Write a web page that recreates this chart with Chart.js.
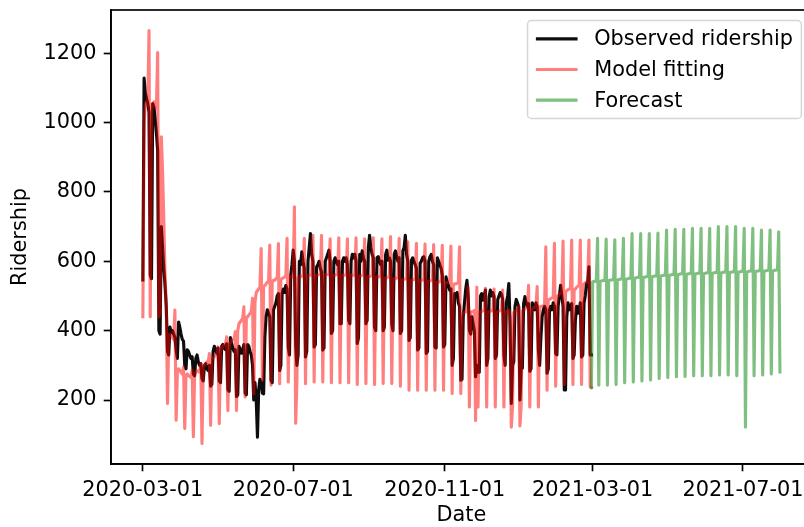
<!DOCTYPE html>
<html>
<head>
<meta charset="utf-8">
<script src="https://cdn.jsdelivr.net/npm/chart.js@4/dist/chart.umd.min.js"></script>
<style>
  html, body { margin: 0; padding: 0; background: #fff; overflow: hidden; width: 804px; height: 527px; }
  #wrap { width: 830px; height: 527px; }
  canvas { display: block; }
</style>
</head>
<body>
<div id="wrap"><canvas id="chart" width="830" height="527"></canvas></div>
<script>
// Daily ridership, one row per week (Sun..Sat)
const observedStart = '2020-03-01';
const observed = [
  546, 1128, 1085, 1070, 1055, 1030, 560,
  550, 1055, 1045, 1010, 970, 920, 400,
  390, 700, 640, 580, 530, 470, 340,
  330, 410, 395, 400, 390, 380, 345,
  320, 425, 410, 390, 375, 370, 300,
  290, 345, 340, 330, 320, 325, 275,
  270, 320, 330, 310, 300, 305, 262,
  255, 300, 305, 290, 285, 300, 240,
  245, 340, 355, 345, 335, 350, 255,
  250, 355, 360, 350, 345, 362, 230,
  225, 380, 365, 350, 340, 345, 210,
  215, 355, 345, 335, 345, 360, 220,
  215, 360, 355, 340, 330, 300, 200,
  250, 200, 93, 230, 260, 250, 220,
  218, 380, 440, 460, 450, 440, 257,
  250, 460, 470, 480, 500, 507, 285,
  300, 507, 520, 510, 530, 520, 353,
  330, 560, 590, 632, 600, 360, 300,
  330, 600, 590, 627, 600, 580, 324,
  340, 600, 640, 680, 620, 600, 353,
  360, 584, 590, 600, 580, 570, 344,
  350, 600, 610, 620, 632, 600, 392,
  400, 600, 610, 600, 590, 600, 420,
  420, 600, 610, 600, 610, 590, 430,
  420, 600, 620, 610, 620, 600, 363,
  380, 620, 600, 630, 610, 600, 420,
  430, 640, 675, 640, 620, 610, 410,
  400, 610, 613, 600, 590, 600, 400,
  410, 620, 632, 603, 610, 600, 420,
  400, 620, 630, 613, 600, 610, 392,
  400, 630, 640, 675, 620, 600, 372,
  380, 603, 610, 600, 590, 580, 344,
  350, 594, 600, 610, 613, 600, 334,
  340, 600, 613, 620, 600, 590, 353,
  350, 610, 600, 590, 580, 560, 353,
  360, 555, 540, 530, 517, 520, 300,
  320, 507, 500, 510, 480, 470, 257,
  260, 440, 480, 520, 545, 500, 402,
  390, 440, 420, 400, 267, 300, 280,
  280, 500, 507, 488, 500, 517, 300,
  320, 498, 517, 500, 510, 498, 320,
  330, 490, 500, 510, 505, 490, 330,
  300, 480, 500, 536, 420, 190, 300,
  310, 470, 490, 480, 469, 200, 290,
  292, 478, 498, 480, 470, 478, 283,
  290, 480, 470, 460, 480, 470, 344,
  300, 380, 440, 460, 470, 460, 277,
  290, 460, 470, 460, 480, 470, 334,
  330, 470, 500, 531, 500, 470, 229,
  229, 440, 480, 460, 470, 478, 320,
  330, 430, 470, 450, 460, 480, 324,
  330, 480, 500, 536, 540, 584, 330,
  330
];

const modelStart = '2020-03-01';
const model = [
  440, 1000, 1050, 1060, 1050, 1265, 440,
  1040, 1050, 1060, 1050, 1040, 1202, 440,
  450, 959, 860, 720, 560, 470, 190,
  380, 390, 385, 380, 375, 459, 142,
  280, 290, 285, 280, 275, 295, 118,
  270, 275, 270, 268, 265, 286, 94,
  275, 280, 285, 283, 280, 305, 75,
  295, 300, 305, 310, 308, 334, 127,
  318, 320, 325, 330, 330, 353, 132,
  345, 350, 355, 360, 360, 382, 170,
  362, 365, 370, 375, 375, 397, 170,
  400, 420, 425, 430, 435, 469, 209,
  438, 440, 445, 450, 455, 493, 218,
  480, 510, 515, 520, 525, 637, 257,
  528, 530, 535, 540, 540, 647, 243,
  543, 545, 545, 550, 550, 651, 247,
  548, 550, 552, 555, 555, 666, 252,
  553, 555, 555, 555, 757, 133, 250,
  553, 555, 555, 558, 558, 666, 247,
  556, 558, 560, 560, 560, 675, 252,
  558, 560, 560, 562, 562, 675, 252,
  558, 560, 562, 562, 562, 665, 250,
  558, 560, 560, 562, 562, 668, 250,
  558, 560, 560, 560, 560, 665, 250,
  558, 560, 560, 560, 560, 668, 245,
  556, 558, 558, 560, 560, 665, 248,
  554, 556, 556, 558, 558, 668, 245,
  553, 555, 555, 556, 556, 665, 248,
  550, 552, 552, 555, 555, 671, 248,
  548, 550, 550, 552, 552, 666, 240,
  546, 548, 548, 550, 550, 656, 228,
  544, 546, 546, 548, 548, 652, 228,
  543, 545, 545, 546, 546, 650, 228,
  541, 543, 543, 545, 545, 648, 228,
  538, 540, 540, 542, 542, 646, 228,
  536, 538, 538, 540, 540, 644, 219,
  533, 535, 535, 537, 537, 642, 219,
  448, 450, 452, 455, 455, 526, 180,
  453, 455, 455, 458, 141, 526, 180,
  453, 455, 455, 458, 458, 522, 180,
  453, 455, 456, 458, 458, 520, 180,
  453, 455, 456, 458, 458, 517, 180,
  453, 455, 456, 458, 440, 122, 180,
  453, 455, 458, 460, 470, 125, 185,
  458, 460, 462, 465, 465, 531, 180,
  460, 462, 465, 468, 468, 527, 180,
  468, 470, 470, 472, 472, 642, 228,
  488, 490, 492, 495, 495, 652, 240,
  498, 500, 505, 508, 510, 658, 245,
  512, 515, 518, 520, 522, 661, 245,
  518, 520, 525, 528, 530, 661, 245,
  532, 535, 538, 540, 545, 661, 238,
  236
];

const forecastStart = '2021-02-28';
const forecast = [
  236, 541, 542, 542, 543, 666, 243,
  542, 543, 544, 545, 545, 664, 243,
  544, 545, 546, 547, 547, 662, 245,
  546, 547, 548, 549, 549, 666, 250,
  548, 549, 550, 551, 552, 680, 252,
  551, 552, 553, 554, 554, 680, 255,
  553, 554, 555, 556, 556, 680, 258,
  555, 556, 557, 558, 558, 681, 262,
  557, 558, 559, 560, 560, 690, 265,
  559, 560, 561, 562, 562, 692, 267,
  561, 562, 563, 564, 564, 692, 268,
  562, 563, 564, 565, 565, 695, 270,
  563, 564, 565, 566, 566, 695, 270,
  564, 565, 566, 567, 567, 695, 270,
  565, 566, 567, 568, 568, 700, 272,
  566, 567, 568, 569, 569, 700, 272,
  567, 568, 569, 570, 570, 700, 270,
  568, 569, 570, 571, 571, 695, 122,
  569, 570, 571, 572, 572, 695, 270,
  570, 571, 572, 573, 573, 690, 272,
  571, 572, 573, 574, 574, 690, 275,
  572, 573, 574, 575, 575, 685, 281
];

const xTickDates = ['2020-03-01', '2020-07-01', '2020-11-01', '2021-03-01', '2021-07-01'];
const yTicks = [200, 400, 600, 800, 1000, 1200];
const seriesNames = ['Observed ridership', 'Model fitting', 'Forecast'];
const seriesColors = ['rgba(0,0,0,0.95)', 'rgba(255,0,0,0.5)', 'rgba(0,128,0,0.5)'];

// ---- helpers ----
const DAY_MS = 86400000;
const origin = Date.parse(observedStart + 'T00:00:00Z');
const dayOf = s => Math.round((Date.parse(s + 'T00:00:00Z') - origin) / DAY_MS);
const toPoints = (start, values) => {
  const d0 = dayOf(start);
  return values.map((v, i) => ({ x: d0 + i, y: v }));
};

const obsPts = toPoints(observedStart, observed);
const modelPts = toPoints(modelStart, model);
const fcPts = toPoints(forecastStart, forecast);

const allPts = obsPts.concat(modelPts, fcPts);
const xMinData = Math.min(...allPts.map(p => p.x));
const xMaxData = Math.max(...allPts.map(p => p.x));
const yMinData = Math.min(...allPts.map(p => p.y));
const yMaxData = Math.max(...allPts.map(p => p.y));
const xPad = 0.05 * (xMaxData - xMinData);
const yPad = 0.05 * (yMaxData - yMinData);

const xTickDays = xTickDates.map(dayOf);
const tickLabel = {};
xTickDates.forEach((d, i) => { tickLabel[xTickDays[i]] = d; });

// sizes in points scaled to pixels
const PT = 150 / 72;
const FS = 10 * PT;
const FAMILY = "'DejaVu Sans', sans-serif";

const CANVAS_W = 830, CANVAS_H = 527;
const AREA = { left: 111, right: 811.8, top: 10, bottom: 464 };

const framePlugin = {
  id: 'axesFrame',
  afterDraw(chart) {
    const { ctx, chartArea: a } = chart;
    ctx.save();
    ctx.strokeStyle = '#000';
    ctx.lineWidth = 0.8 * PT;
    ctx.strokeRect(a.left, a.top, a.right - a.left, a.bottom - a.top);
    ctx.restore();
  }
};

const insetLegend = {
  id: 'insetLegend',
  afterDraw(chart) {
    const { ctx, chartArea: a } = chart;
    const pad = 0.4 * FS, handle = 2.0 * FS, gap = 0.8 * FS, spacing = 0.5 * FS, inset = 0.5 * FS;
    const rowH = 0.97 * FS;
    ctx.save();
    ctx.font = FS + 'px ' + FAMILY;
    const items = chart.data.datasets.map(ds => ({ text: ds.label, color: ds.borderColor, lw: ds.borderWidth }));
    const tw = Math.max(...items.map(it => ctx.measureText(it.text).width));
    const w = 2 * pad + handle + gap + tw;
    const h = 2 * pad + items.length * rowH + (items.length - 1) * spacing;
    const x = a.right - inset - w;
    const y = a.top + inset;
    const r = 0.2 * FS;
    ctx.beginPath();
    ctx.moveTo(x + r, y);
    ctx.lineTo(x + w - r, y);
    ctx.arcTo(x + w, y, x + w, y + r, r);
    ctx.lineTo(x + w, y + h - r);
    ctx.arcTo(x + w, y + h, x + w - r, y + h, r);
    ctx.lineTo(x + r, y + h);
    ctx.arcTo(x, y + h, x, y + h - r, r);
    ctx.lineTo(x, y + r);
    ctx.arcTo(x, y, x + r, y, r);
    ctx.closePath();
    ctx.fillStyle = 'rgba(255,255,255,0.8)';
    ctx.fill();
    ctx.strokeStyle = 'rgba(204,204,204,0.8)';
    ctx.lineWidth = 1.5;
    ctx.stroke();
    items.forEach((it, i) => {
      const cy = y + pad + rowH / 2 + i * (rowH + spacing);
      ctx.beginPath();
      ctx.moveTo(x + pad, cy);
      ctx.lineTo(x + pad + handle, cy);
      ctx.strokeStyle = it.color;
      ctx.lineWidth = it.lw;
      ctx.lineCap = 'butt';
      ctx.stroke();
      ctx.fillStyle = '#000';
      ctx.textBaseline = 'middle';
      ctx.textAlign = 'left';
      ctx.fillText(it.text, x + pad + handle + gap, cy + 1);
    });
    ctx.restore();
  }
};

const lineStyle = (i) => ({
  label: seriesNames[i],
  borderColor: seriesColors[i],
  backgroundColor: seriesColors[i],
  borderWidth: 1.5 * PT,
  pointRadius: 0,
  tension: 0,
  fill: false,
  borderJoinStyle: 'round',
  borderCapStyle: 'square'
});

const tickFont = { family: FAMILY, size: FS };

new Chart(document.getElementById('chart'), {
  type: 'line',
  data: {
    datasets: [
      Object.assign(lineStyle(0), { data: obsPts, order: 3 }),
      Object.assign(lineStyle(1), { data: modelPts, order: 2 }),
      Object.assign(lineStyle(2), { data: fcPts, order: 1 })
    ]
  },
  options: {
    responsive: false,
    animation: false,
    events: [],
    layout: { padding: { left: 0, top: AREA.top, right: CANVAS_W - AREA.right, bottom: 0 } },
    plugins: { legend: { display: false }, tooltip: { enabled: false } },
    scales: {
      x: {
        type: 'linear',
        min: xMinData - xPad,
        max: xMaxData + xPad,
        afterBuildTicks: s => { s.ticks = xTickDays.map(v => ({ value: v })); },
        afterFit: s => { s.height = CANVAS_H - AREA.bottom; s.paddingLeft = 0; s.paddingRight = 0; },
        ticks: {
          autoSkip: false, maxRotation: 0, minRotation: 0,
          padding: 3.5 * PT, color: '#000', font: tickFont,
          callback: v => tickLabel[v] || ''
        },
        grid: { display: true, drawOnChartArea: false, drawTicks: true, tickLength: 3.5 * PT, tickWidth: 0.8 * PT, tickColor: '#000' },
        border: { display: true, color: '#000', width: 0.8 * PT },
        title: { display: true, text: 'Date', color: '#000', font: { family: FAMILY, size: FS, lineHeight: 1 }, padding: { top: 0, bottom: 0.5 } }
      },
      y: {
        type: 'linear',
        min: yMinData - yPad,
        max: yMaxData + yPad,
        afterBuildTicks: s => { s.ticks = yTicks.map(v => ({ value: v })); },
        afterFit: s => { s.width = AREA.left; s.paddingTop = 0; s.paddingBottom = 0; },
        ticks: { padding: 3.5 * PT, color: '#000', font: tickFont, callback: v => String(v) },
        grid: { display: true, drawOnChartArea: false, drawTicks: true, tickLength: 3.5 * PT, tickWidth: 0.8 * PT, tickColor: '#000' },
        border: { display: true, color: '#000', width: 0.8 * PT },
        title: { display: true, text: 'Ridership', color: '#000', font: { family: FAMILY, size: FS, lineHeight: 1 }, padding: { top: 10.6, bottom: 0 } }
      }
    }
  },
  plugins: [framePlugin, insetLegend]
});
</script>
</body>
</html>
